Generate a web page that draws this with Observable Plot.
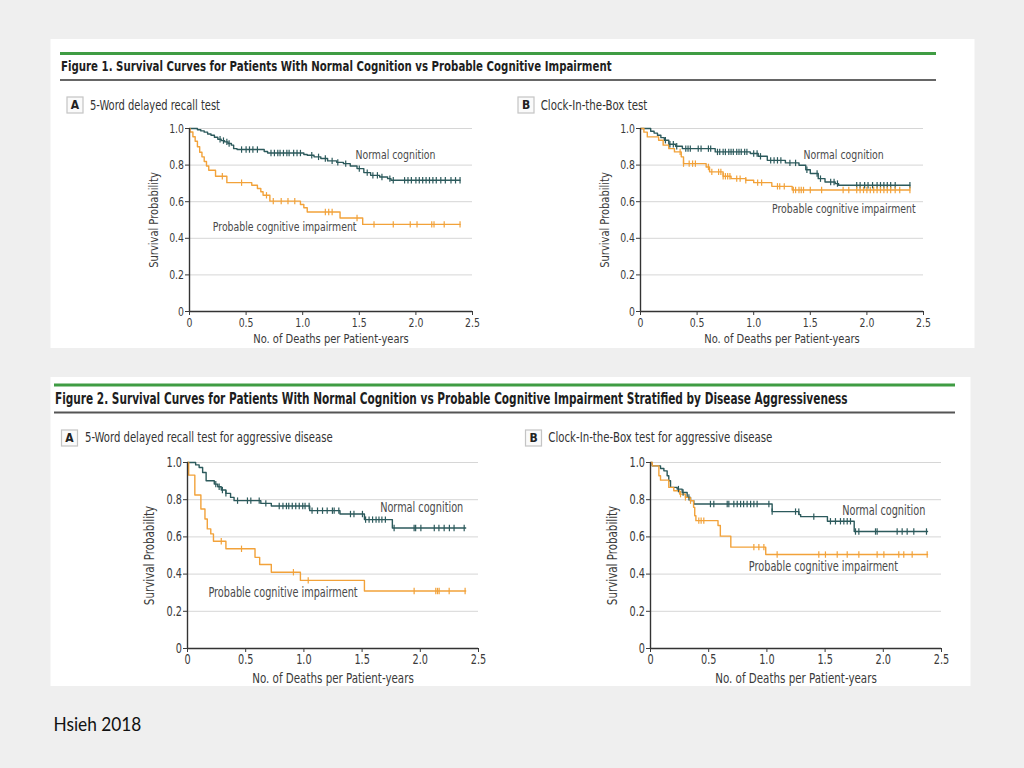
<!DOCTYPE html>
<html><head><meta charset="utf-8">
<script src="https://cdn.jsdelivr.net/npm/d3@7"></script>
<script src="https://cdn.jsdelivr.net/npm/@observablehq/plot@0.6"></script>
<style>
html,body{margin:0;padding:0;background:#efefef;}
#root{position:relative;width:1024px;height:768px;overflow:hidden;}
.panel{position:absolute;}
.panel svg{overflow:visible;}
</style></head><body><div id="root"></div>
<script>
// ---------------- DATA ----------------
const xTicks = [0, 0.5, 1.0, 1.5, 2.0, 2.5];
const xTickLabels = ["0", "0.5", "1.0", "1.5", "2.0", "2.5"];
const yTicks = [0, 0.2, 0.4, 0.6, 0.8, 1.0];
const yTickLabels = ["0", "0.2", "0.4", "0.6", "0.8", "1.0"];
const groups = ["Normal cognition", "Probable cognitive impairment"];
const xLabel = "No. of Deaths per Patient-years";
const yLabel = "Survival Probability";
const figureTitles = [
  "Figure 1. Survival Curves for Patients With Normal Cognition vs Probable Cognitive Impairment",
  "Figure 2. Survival Curves for Patients With Normal Cognition vs Probable Cognitive Impairment Stratified by Disease Aggressiveness"
];
const panelLetters = ["A", "B", "A", "B"];
const panelTitles = [
  "5-Word delayed recall test",
  "Clock-In-the-Box test",
  "5-Word delayed recall test for aggressive disease",
  "Clock-In-the-Box test for aggressive disease"
];
const sourceNote = "Hsieh 2018";

// Kaplan-Meier steps: [time, survival]
const f1aNormal = [[0,1],[0.07,0.993],[0.10,0.987],[0.13,0.98],[0.16,0.97],[0.19,0.963],[0.22,0.952],[0.25,0.941],[0.28,0.934],[0.31,0.927],[0.34,0.918],[0.37,0.909],[0.39,0.89],[0.42,0.885],[0.66,0.874],[0.69,0.866],[1.01,0.858],[1.04,0.854],[1.10,0.845],[1.16,0.836],[1.22,0.823],[1.30,0.815],[1.36,0.808],[1.42,0.795],[1.48,0.781],[1.54,0.759],[1.60,0.744],[1.68,0.735],[1.75,0.726],[1.78,0.717],[2.39,0.717]];
const f1aNormalCensor = [0.27,0.30,0.33,0.35,0.46,0.50,0.53,0.56,0.60,0.72,0.75,0.78,0.80,0.83,0.86,0.88,0.92,0.95,0.98,1.08,1.14,1.20,1.26,1.31,1.38,1.50,1.57,1.62,1.66,1.70,1.77,1.80,1.90,1.93,1.96,2.0,2.03,2.06,2.09,2.12,2.15,2.18,2.22,2.26,2.31,2.35,2.39];
const f1aProbable = [[0,1],[0.005,0.981],[0.03,0.955],[0.05,0.93],[0.07,0.9],[0.09,0.87],[0.11,0.845],[0.13,0.82],[0.15,0.795],[0.17,0.772],[0.23,0.739],[0.33,0.704],[0.55,0.69],[0.60,0.672],[0.63,0.654],[0.65,0.635],[0.71,0.603],[0.98,0.585],[1.01,0.567],[1.04,0.544],[1.33,0.511],[1.53,0.476],[2.39,0.476]];
const f1aProbableCensor = [0.29,0.46,0.68,0.74,0.81,0.87,0.93,1.20,1.23,1.26,1.48,1.63,1.80,1.95,2.01,2.14,2.16,2.25,2.39];

const f1bNormal = [[0,1],[0.09,0.985],[0.12,0.975],[0.15,0.963],[0.18,0.95],[0.21,0.936],[0.25,0.914],[0.31,0.903],[0.37,0.89],[0.66,0.872],[0.97,0.863],[1.04,0.848],[1.12,0.826],[1.28,0.812],[1.40,0.799],[1.46,0.775],[1.50,0.754],[1.57,0.726],[1.63,0.708],[1.72,0.699],[1.75,0.69],[2.38,0.69]];
const f1bNormalCensor = [0.22,0.26,0.29,0.32,0.40,0.42,0.44,0.51,0.535,0.60,0.62,0.68,0.70,0.73,0.75,0.78,0.80,0.82,0.85,0.87,0.89,0.92,0.94,1.0,1.03,1.06,1.15,1.18,1.21,1.24,1.32,1.37,1.47,1.56,1.59,1.68,1.71,1.74,1.91,1.94,1.98,2.01,2.05,2.09,2.12,2.15,2.18,2.21,2.25,2.38];
const f1bProbable = [[0,1],[0.03,0.98],[0.06,0.954],[0.16,0.936],[0.2,0.909],[0.25,0.89],[0.3,0.872],[0.36,0.845],[0.38,0.808],[0.58,0.79],[0.61,0.763],[0.73,0.739],[0.80,0.726],[0.93,0.717],[1.0,0.704],[1.16,0.684],[1.34,0.664],[2.38,0.664]];
const f1bProbableCensor = [0.35,0.38,0.43,0.46,0.485,0.60,0.63,0.69,0.71,0.73,0.75,0.77,0.79,0.85,0.88,0.93,1.035,1.07,1.21,1.23,1.27,1.35,1.37,1.40,1.42,1.44,1.50,1.60,1.79,1.84,1.91,1.94,1.97,2.0,2.03,2.06,2.09,2.12,2.15,2.18,2.21,2.25,2.29,2.38];

const f2aNormal = [[0,1],[0.07,0.987],[0.10,0.973],[0.13,0.946],[0.16,0.902],[0.23,0.884],[0.26,0.87],[0.29,0.852],[0.33,0.834],[0.37,0.8125],[0.40,0.795],[0.63,0.78],[0.72,0.766],[1.05,0.741],[1.31,0.723],[1.52,0.693],[1.76,0.648],[2.39,0.648]];
const f2aNormalCensor = [0.243,0.272,0.30,0.33,0.43,0.515,0.544,0.616,0.673,0.788,0.82,0.85,0.87,0.90,0.93,0.96,0.99,1.01,1.045,1.07,1.117,1.16,1.20,1.245,1.26,1.30,1.40,1.43,1.503,1.53,1.56,1.59,1.62,1.645,1.67,1.70,1.775,1.947,1.96,2.005,2.12,2.16,2.205,2.25,2.29,2.377];
const f2aProbable = [[0,1],[0.01,0.932],[0.063,0.825],[0.115,0.75],[0.15,0.696],[0.17,0.643],[0.20,0.616],[0.223,0.577],[0.33,0.536],[0.58,0.49],[0.62,0.452],[0.72,0.41],[0.97,0.366],[1.52,0.309],[2.39,0.309]];
const f2aProbableCensor = [0.29,0.464,0.91,1.037,1.947,2.133,2.148,2.162,2.248,2.385];

const f2bNormal = [[0,1],[0.015,0.982],[0.086,0.968],[0.115,0.955],[0.143,0.929],[0.157,0.902],[0.172,0.866],[0.229,0.857],[0.272,0.839],[0.315,0.8125],[0.344,0.795],[0.372,0.777],[1.045,0.736],[1.275,0.72],[1.29,0.709],[1.52,0.684],[1.75,0.629],[2.38,0.629]];
const f2bNormalCensor = [0.24,0.28,0.33,0.515,0.544,0.659,0.673,0.716,0.745,0.774,0.80,0.83,0.86,0.888,0.916,1.017,1.045,1.246,1.274,1.403,1.546,1.589,1.632,1.661,1.69,1.718,1.761,1.79,1.933,1.947,2.119,2.162,2.205,2.262,2.371];
const f2bProbable = [[0,1],[0.015,0.982],[0.072,0.929],[0.086,0.905],[0.157,0.866],[0.2,0.848],[0.25,0.83],[0.3,0.8125],[0.34,0.795],[0.37,0.759],[0.38,0.714],[0.39,0.6875],[0.58,0.661],[0.60,0.604],[0.69,0.545],[0.99,0.505],[2.38,0.505]];
const f2bProbableCensor = [0.258,0.30,0.344,0.415,0.435,0.458,0.888,0.931,0.974,1.088,1.446,1.503,1.604,1.69,1.79,1.947,2.005,2.133,2.176,2.248,2.377];

// ---------------- LAYOUT / STYLE ----------------
const FONT = "'Liberation Sans Narrow','Arial Narrow','DejaVu Sans Condensed',sans-serif";
const COLORS = {normal: "#2c5a5c", probable: "#f2a23a"};
const panels = [
  {left:130, top:118, width:360, height:235, x0:189, x1:472, y1:128, y0:311, xlo:31.5, ylo:41, fs:13,
   normal:f1aNormal, normalC:f1aNormalCensor, probable:f1aProbable, probableC:f1aProbableCensor,
   labelAt:[[1.466,0.858],[0.206,0.461]]},
  {left:581, top:118, width:360, height:235, x0:640, x1:923, y1:128, y0:311, xlo:31.5, ylo:41, fs:13,
   normal:f1bNormal, normalC:f1bNormalCensor, probable:f1bProbable, probableC:f1bProbableCensor,
   labelAt:[[1.441,0.858],[1.162,0.56]]},
  {left:128, top:452, width:370, height:234, x0:187, x1:478, y1:462, y0:648, xlo:34, ylo:43, fs:13.5,
   normal:f2aNormal, normalC:f2aNormalCensor, probable:f2aProbable, probableC:f2aProbableCensor,
   labelAt:[[1.655,0.759],[0.18,0.30]]},
  {left:591, top:452, width:370, height:234, x0:650, x1:941, y1:462, y0:648, xlo:34, ylo:43, fs:13.5,
   normal:f2bNormal, normalC:f2bNormalCensor, probable:f2bProbable, probableC:f2bProbableCensor,
   labelAt:[[1.647,0.741],[0.845,0.4375]]}
];

const root = document.getElementById("root");

// ---------------- BACKGROUND (figure boxes, headers) ----------------
const bg = d3.select(root).append("svg")
  .attr("width", 1024).attr("height", 768)
  .style("position", "absolute").style("left", 0).style("top", 0);

// place a text and squeeze it horizontally to a target width
function fitText(sel, x, y, target) {
  const node = sel.node();
  const w = node.getComputedTextLength();
  const k = w > 0 ? target / w : 1;
  sel.attr("transform", `translate(${x},${y}) scale(${k},1)`);
}

const boxes = [{x:50.5, y:39, w:924, h:309}, {x:50.5, y:377, w:920, h:309}];
bg.selectAll("rect.box").data(boxes).join("rect").attr("class","box")
  .attr("x", d=>d.x).attr("y", d=>d.y).attr("width", d=>d.w).attr("height", d=>d.h).attr("fill", "#fff");

const headers = [
  {x1:60, x2:936, green:53.5, rule:80, ruleW:1.5, ruleC:"#333", tx:61, ty:71, fs:14.5, tl:551},
  {x1:54, x2:955, green:385, rule:412.5, ruleW:2, ruleC:"#555", tx:55, ty:404, fs:15, tl:793}
];
headers.forEach((h, i) => {
  bg.append("line").attr("x1", h.x1).attr("x2", h.x2).attr("y1", h.green).attr("y2", h.green)
    .attr("stroke", "#3f9c43").attr("stroke-width", 3.2);
  bg.append("line").attr("x1", h.x1).attr("x2", h.x2).attr("y1", h.rule).attr("y2", h.rule)
    .attr("stroke", h.ruleC).attr("stroke-width", h.ruleW);
  const t = bg.append("text").text(figureTitles[i])
    .attr("font-family", FONT).attr("font-weight", "bold").attr("font-size", h.fs).attr("fill", "#1e1e1e");
  fitText(t, h.tx, h.ty, h.tl);
});

const panelHeads = [
  {bx:67, by:97, tx:90, ty:109.5, fs:13.5, tl:130},
  {bx:518, by:97, tx:540.7, ty:109.5, fs:13.5, tl:106.7},
  {bx:61.5, by:430, tx:85, ty:441.5, fs:14, tl:248},
  {bx:525.5, by:430, tx:548.3, ty:441.5, fs:14, tl:224.3}
];
panelHeads.forEach((p, i) => {
  bg.append("rect").attr("x", p.bx).attr("y", p.by).attr("width", 16).attr("height", 16)
    .attr("fill", "#fafafa").attr("stroke", "#c4c4c4").attr("stroke-width", 1.2);
  bg.append("text").attr("x", p.bx + 8).attr("y", p.by + 12.3).attr("text-anchor", "middle")
    .attr("font-family", FONT).attr("font-weight", "bold").attr("font-size", 12).attr("fill", "#222")
    .text(panelLetters[i]);
  const t = bg.append("text").text(panelTitles[i])
    .attr("font-family", FONT).attr("font-size", p.fs).attr("fill", "#333");
  fitText(t, p.tx, p.ty, p.tl);
});

const note = bg.append("text").text(sourceNote)
  .attr("font-family", "Lato, 'Open Sans', sans-serif").attr("font-size", 19).attr("fill", "#111");
fitText(note, 53.5, 731, 88);

// ---------------- PANELS ----------------
const censorTick = {
  draw(ctx, size) { const h = Math.sqrt(size / Math.PI); ctx.moveTo(0, -h); ctx.lineTo(0, h); }
};
function survivalAt(steps, t) {
  let s = steps[0][1];
  for (const [ti, si] of steps) { if (ti <= t) s = si; else break; }
  return s;
}
const fmtX = d => xTickLabels[xTicks.indexOf(d)];
const fmtY = d => yTickLabels[yTicks.indexOf(d)];

// condense Plot texts (the page has no narrow font installed)
function condense(svg) {
  svg.querySelectorAll("text").forEach(el => {
    const txt = el.textContent;
    const k = (txt === xLabel || txt === yLabel) ? 0.85 : 0.8;
    let tr = el.getAttribute("transform") || "";
    const x = el.getAttribute("x");
    if (x !== null && +x !== 0) { tr = `${tr} translate(${x},0)`; el.setAttribute("x", 0); }
    el.setAttribute("transform", `${tr} scale(${k},1)`);
  });
}

panels.forEach(p => {
  const lines = [
    ...p.normal.map(([t, s]) => ({t, s, g: groups[0]})),
    ...p.probable.map(([t, s]) => ({t, s, g: groups[1]}))
  ];
  const censors = [
    ...p.normalC.map(t => ({t, s: survivalAt(p.normal, t), g: groups[0]})),
    ...p.probableC.map(t => ({t, s: survivalAt(p.probable, t), g: groups[1]}))
  ];
  const labels = groups.map((g, i) => ({g, t: p.labelAt[i][0], s: p.labelAt[i][1]}));
  const plot = Plot.plot({
    width: p.width, height: p.height,
    marginLeft: p.x0 - p.left, marginRight: p.width - (p.x1 - p.left),
    marginTop: p.y1 - p.top, marginBottom: p.height - (p.y0 - p.top),
    style: {fontFamily: FONT, fontSize: p.fs + "px", color: "#333", background: "transparent"},
    x: {domain: [0, 2.5]},
    y: {domain: [0, 1]},
    color: {domain: groups, range: [COLORS.normal, COLORS.probable]},
    marks: [
      Plot.gridY(yTicks.slice(1), {stroke: "#d6d6d6", strokeOpacity: 1, strokeWidth: 1}),
      Plot.line(lines, {x: "t", y: "s", z: "g", stroke: "g", curve: "step-after", strokeWidth: 1.4}),
      Plot.dot(censors, {x: "t", y: "s", stroke: "g", fill: "none", symbol: censorTick, r: 3.2, strokeWidth: 1.2}),
      Plot.ruleY([0], {stroke: "#333", strokeWidth: 1.4}),
      Plot.ruleX([0], {stroke: "#333", strokeWidth: 1.4}),
      Plot.axisX({ticks: xTicks, tickFormat: fmtX, tickSize: 4, tickPadding: 2, color: "#3a3a3a",
        label: xLabel, labelAnchor: "center", labelArrow: "none", labelOffset: p.xlo, fontSize: p.fs}),
      Plot.axisY({ticks: yTicks, tickFormat: fmtY, tickSize: 4, tickPadding: 1.5, color: "#3a3a3a",
        label: yLabel, labelAnchor: "center", labelArrow: "none", labelOffset: p.ylo, fontSize: p.fs}),
      Plot.text(labels, {x: "t", y: "s", text: "g", textAnchor: "start", fill: "#4a4a4a", fontSize: p.fs})
    ]
  });
  condense(plot);
  const div = document.createElement("div");
  div.className = "panel";
  div.style.left = p.left + "px";
  div.style.top = p.top + "px";
  div.appendChild(plot);
  root.appendChild(div);
});
</script>
</body></html>
